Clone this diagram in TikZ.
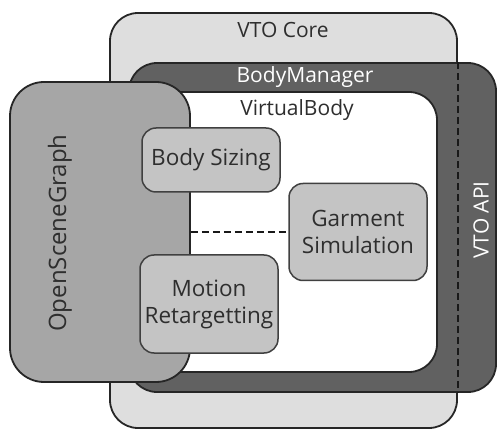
\documentclass[tikz,border=0pt]{standalone}
\usepackage{fontspec}
\setmainfont{Open Sans}
\begin{document}
\begin{tikzpicture}[x=1pt,y=-1pt,
  frame/.style={draw=black!85,line width=1.8pt,rounded corners=28pt,inner sep=0pt},
  sub/.style={draw=black!75,line width=1.5pt,rounded corners=14pt,fill=black!23,inner sep=0pt,minimum width=138pt,align=center,font=\fontsize{22.5}{27}\selectfont,text=black!82},
  lbl/.style={font=\fontsize{21}{24}\selectfont,inner sep=0pt},
  dsh/.style={dash pattern=on 7pt off 4pt,line width=1.6pt,black!90}]
\useasboundingbox (0,0) rectangle (498,430);
\node[frame,fill=black!13,minimum width=347pt,minimum height=415pt] (core) at (283.5,220.5) {};
\node[frame,fill=black!62,minimum width=367pt,minimum height=329pt] (bm) at (312.5,227.5) {};
\draw[dsh] (core.east |- bm.north) -- (core.east |- bm.south);
\node[frame,fill=white,minimum width=287pt,minimum height=280pt] (vb) at (293.5,232) {};
\node[frame,fill=black!35,rounded corners=34pt,minimum width=180pt,minimum height=300pt] (osg) at (100,232) {};
\node[sub,minimum height=64pt] (sizing) at (211,160) {Body Sizing};
\node[sub,minimum height=98pt] (motion) at (209,304) {Motion\\Retargetting};
\node[sub,minimum height=97pt] (garment) at (358,232) {Garment\\Simulation};
\draw[dsh] (garment.west -| osg.east) -- (garment.west);
\node[lbl,text=black!82] (corelbl) at (283,30) {VTO Core};
\node[lbl,text=white] (bmlbl) at (305,77) {BodyManager};
\node[lbl,text=black!82] (vblbl) at (297,110) {VirtualBody};
\node[lbl,text=black!82,rotate=90,font=\fontsize{24}{28}\selectfont] (osglbl) at (60,233) {OpenSceneGraph};
\node[lbl,text=white,rotate=90] (apilbl) at (481,220) {VTO API};
\end{tikzpicture}
\end{document}
